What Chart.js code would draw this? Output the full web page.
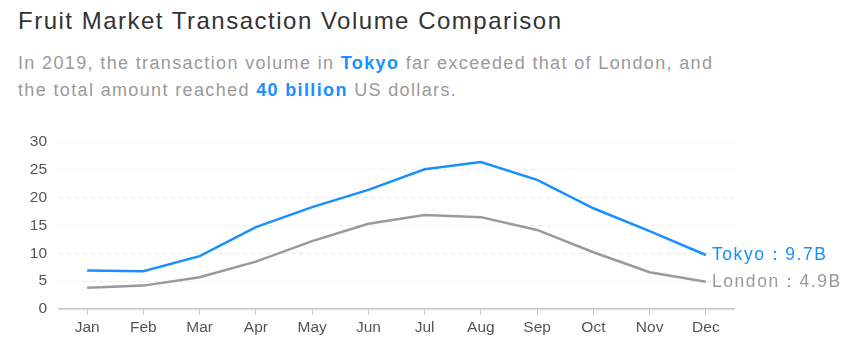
<!DOCTYPE html>
<html>
<head>
<meta charset="utf-8">
<script src="https://cdn.jsdelivr.net/npm/chart.js@4"></script>
<style>
  body { margin: 0; background: #fff; font-family: "Liberation Sans", sans-serif; }
  #wrap { position: relative; width: 864px; height: 352px; overflow: hidden; }
  #title { position: absolute; left: 18px; top: 7px; font-size: 24px; color: #333; letter-spacing: 1.5px; }
  #sub { position: absolute; left: 18px; top: 50px; font-size: 18px; line-height: 27px; color: #9a9a9a; width: 820px; letter-spacing: 1.36px; }
  #sub b { color: #1890ff; }
  canvas { position: absolute; left: 0; top: 0; }
</style>
</head>
<body>
<div id="wrap">
  <div id="title">Fruit Market Transaction Volume Comparison</div>
  <div id="sub">In 2019, the transaction volume in <b>Tokyo</b> far exceeded that of London, and<br>the total amount reached <b>40 billion</b> US dollars.</div>
  <canvas id="chart" width="864" height="352"></canvas>
</div>
<script>
// data
const months = ['Jan', 'Feb', 'Mar', 'Apr', 'May', 'Jun', 'Jul', 'Aug', 'Sep', 'Oct', 'Nov', 'Dec'];
const tokyo = [6.9, 6.8, 9.5, 14.7, 18.3, 21.4, 25.1, 26.4, 23.2, 18.1, 14.0, 9.7];
const london = [3.8, 4.2, 5.7, 8.5, 12.2, 15.3, 16.9, 16.5, 14.2, 10.2, 6.6, 4.9];
const endLabels = ['Tokyo：9.7B', 'London：4.9B'];

const BLUE = '#1890ff';
const GREY = '#9a9a9a';
const FONT = '"Liberation Sans", sans-serif';

// writes the series name next to the last point of each line
const endLabelPlugin = {
    id: 'endLabels',
    afterDatasetsDraw(chart) {
        const ctx = chart.ctx;
        ctx.save();
        ctx.font = '17.5px ' + FONT;
        ctx.letterSpacing = '1.6px';
        ctx.textBaseline = 'middle';
        chart.data.datasets.forEach((ds, i) => {
            const meta = chart.getDatasetMeta(i);
            const last = meta.data[meta.data.length - 1];
            ctx.fillStyle = ds.borderColor;
            ctx.fillText(endLabels[i], last.x + 6, last.y);
        });
        ctx.restore();
    }
};

new Chart(document.getElementById('chart'), {
    type: 'line',
    data: {
        labels: months,
        datasets: [
            { label: 'Tokyo', data: tokyo, borderColor: BLUE, borderWidth: 2.5, pointRadius: 0, tension: 0 },
            { label: 'London', data: london, borderColor: GREY, borderWidth: 2.5, pointRadius: 0, tension: 0 }
        ]
    },
    options: {
        responsive: false,
        animation: false,
        layout: { padding: { top: 142, right: 130, left: 0, bottom: 0 } },
        plugins: { legend: { display: false }, tooltip: { enabled: false } },
        scales: {
            x: {
                offset: true,
                afterFit: (s) => { s.height = 43; },
                grid: { offset: false, drawOnChartArea: false, tickLength: 6, color: '#c8c8c8' },
                border: { color: '#c8c8c8', width: 1.5 },
                ticks: { color: '#555', font: { size: 15.5, family: FONT }, padding: 3 }
            },
            y: {
                min: 0,
                max: 30,
                afterFit: (s) => { s.width = 59; },
                border: { display: false, dash: [4, 4] },
                grid: { color: '#e6e6e6', drawTicks: false },
                ticks: { stepSize: 5, color: '#555', font: { size: 15.5, family: FONT }, padding: 12 }
            }
        }
    },
    plugins: [endLabelPlugin]
});
</script>
</body>
</html>
